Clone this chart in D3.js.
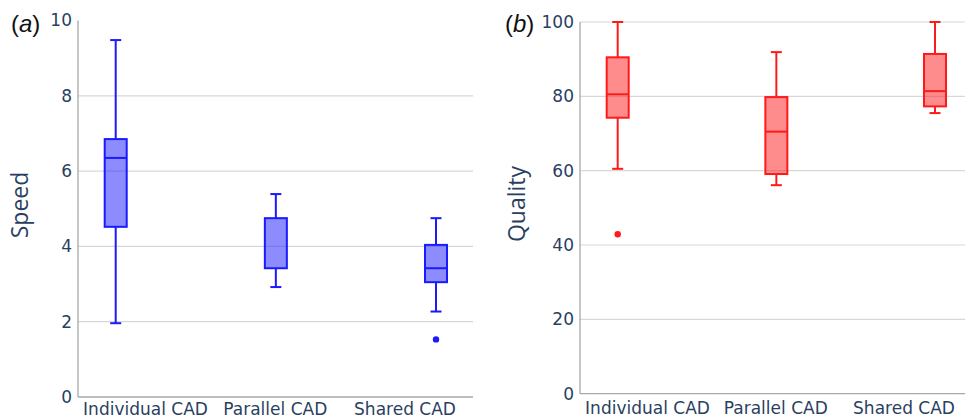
<!DOCTYPE html>
<html>
<head>
<meta charset="utf-8">
<script src="https://cdn.jsdelivr.net/npm/d3@7"></script>
<style>
  body { margin: 0; background: #fff; }
  svg { display: block; }
</style>
</head>
<body>
<svg id="chart" width="965" height="419"></svg>
<script>
// categories shared by both panels
const categories = ['Individual CAD', 'Parallel CAD', 'Shared CAD'];

// (a) speed box stats: [lowWhisker, q1, median, q3, highWhisker]
const speedStats = [
  [1.96, 4.52, 6.35, 6.85, 9.48],
  [2.92, 3.42, null, 4.75, 5.39],
  [2.27, 3.05, 3.42, 4.04, 4.75]
];
const speedOutliers = [[], [], [1.53]];
const speedTicks = [0, 2, 4, 6, 8, 10];

// (b) quality box stats
const qualityStats = [
  [60.5, 74.25, 80.55, 90.5, 100],
  [56.1, 59.1, 70.5, 79.8, 91.9],
  [75.5, 77.3, 81.4, 91.4, 100]
];
const qualityOutliers = [[42.9], [], []];
const qualityTicks = [0, 20, 40, 60, 80, 100];

const svg = d3.select('#chart');

/**
 * Draw one box-plot panel
 */
function drawPanel(cfg) {
  const g = svg.append('g');

  const y = d3.scaleLinear().domain(cfg.yDomain).range([cfg.bottom, cfg.top]);
  const xLabel = d3.scalePoint().domain(categories).range(cfg.labelRange);
  const xBox = d3.scalePoint().domain(categories).range(cfg.boxRange);

  // grid lines
  g.append('g')
    .selectAll('line')
    .data(cfg.ticks.filter(t => t > 0 && (cfg.topGrid || t < cfg.yDomain[1])))
    .join('line')
    .attr('x1', cfg.left)
    .attr('x2', cfg.right)
    .attr('y1', d => y(d))
    .attr('y2', d => y(d))
    .attr('stroke', '#d8d8d8')
    .attr('stroke-width', 1.2);

  // y axis
  const yAxis = g.append('g')
    .attr('transform', `translate(${cfg.left},0)`)
    .call(d3.axisLeft(y).tickValues(cfg.ticks).tickSize(0).tickPadding(6));
  yAxis.select('.domain').remove();
  yAxis.selectAll('text')
    .style('font-family', '"DejaVu Sans", sans-serif')
    .style('font-size', '17px')
    .style('fill', '#2a3f5f');

  // axis lines
  g.append('line')
    .attr('x1', cfg.left).attr('x2', cfg.left)
    .attr('y1', cfg.top).attr('y2', cfg.bottom)
    .attr('stroke', '#a8a8a8').attr('stroke-width', 1.3);
  g.append('line')
    .attr('x1', cfg.left).attr('x2', cfg.right)
    .attr('y1', cfg.bottom).attr('y2', cfg.bottom)
    .attr('stroke', '#a8a8a8').attr('stroke-width', 1.3);

  // x labels
  g.append('g')
    .selectAll('text')
    .data(categories)
    .join('text')
    .attr('x', d => xLabel(d))
    .attr('y', cfg.labelY)
    .attr('text-anchor', 'middle')
    .style('font-family', '"DejaVu Sans", sans-serif')
    .style('font-size', '17px')
    .style('fill', '#2a3f5f')
    .text(d => d);

  // y title
  g.append('text')
    .attr('transform', `translate(${cfg.titleX},${cfg.titleY}) rotate(-90)`)
    .attr('text-anchor', 'middle')
    .style('font-family', '"Open Sans", sans-serif')
    .style('font-size', '23px')
    .style('fill', '#2a3f5f')
    .text(cfg.title);

  // panel letter
  const tag = g.append('text')
    .attr('x', cfg.tagX)
    .attr('y', 32)
    .style('font-family', '"Liberation Sans", Arial, sans-serif')
    .style('font-size', '24px')
    .style('fill', '#111');
  tag.append('tspan').text('(');
  tag.append('tspan').style('font-style', 'italic').text(cfg.tag);
  tag.append('tspan').text(')');

  // boxes
  const bw = 22;
  const boxes = g.append('g')
    .selectAll('g')
    .data(cfg.stats.map((s, i) => ({ cat: categories[i], s, out: cfg.outliers[i] })))
    .join('g')
    .attr('transform', d => `translate(${xBox(d.cat)},0)`);

  // whiskers
  boxes.append('line')
    .attr('y1', d => y(d.s[0])).attr('y2', d => y(d.s[1]))
    .attr('stroke', cfg.color).attr('stroke-width', 2);
  boxes.append('line')
    .attr('y1', d => y(d.s[3])).attr('y2', d => y(d.s[4]))
    .attr('stroke', cfg.color).attr('stroke-width', 2);
  // caps
  [0, 4].forEach(k => {
    boxes.append('line')
      .attr('x1', -bw / 4).attr('x2', bw / 4)
      .attr('y1', d => y(d.s[k])).attr('y2', d => y(d.s[k]))
      .attr('stroke', cfg.color).attr('stroke-width', 2);
  });
  // box body
  boxes.append('rect')
    .attr('x', -bw / 2)
    .attr('width', bw)
    .attr('y', d => y(d.s[3]))
    .attr('height', d => y(d.s[1]) - y(d.s[3]))
    .attr('fill', cfg.fill)
    .attr('stroke', cfg.color)
    .attr('stroke-width', 2);
  // median
  boxes.filter(d => d.s[2] != null)
    .append('line')
    .attr('x1', -bw / 2).attr('x2', bw / 2)
    .attr('y1', d => y(d.s[2])).attr('y2', d => y(d.s[2]))
    .attr('stroke', cfg.color).attr('stroke-width', 2);
  // outliers
  boxes.selectAll('circle')
    .data(d => d.out)
    .join('circle')
    .attr('r', 3.2)
    .attr('cy', d => y(d))
    .attr('fill', cfg.color);
}

drawPanel({
  title: 'Speed', tag: 'a', tagX: 11, titleX: 28, titleY: 205,
  left: 78, right: 473, top: 20.5, bottom: 397, labelY: 414.5,
  yDomain: [0, 10], ticks: speedTicks, topGrid: false,
  labelRange: [145.5, 405], boxRange: [115.7, 436],
  stats: speedStats, outliers: speedOutliers,
  color: '#1a1aff', fill: 'rgba(26,26,255,0.5)'
});

drawPanel({
  title: 'Quality', tag: 'b', tagX: 505, titleX: 525, titleY: 204,
  left: 580, right: 965, top: 22, bottom: 393.7, labelY: 413.5,
  yDomain: [0, 100], ticks: qualityTicks, topGrid: true,
  labelRange: [647.5, 904], boxRange: [617.7, 935],
  stats: qualityStats, outliers: qualityOutliers,
  color: '#ff1a1a', fill: 'rgba(255,26,26,0.5)'
});
</script>
</body>
</html>
